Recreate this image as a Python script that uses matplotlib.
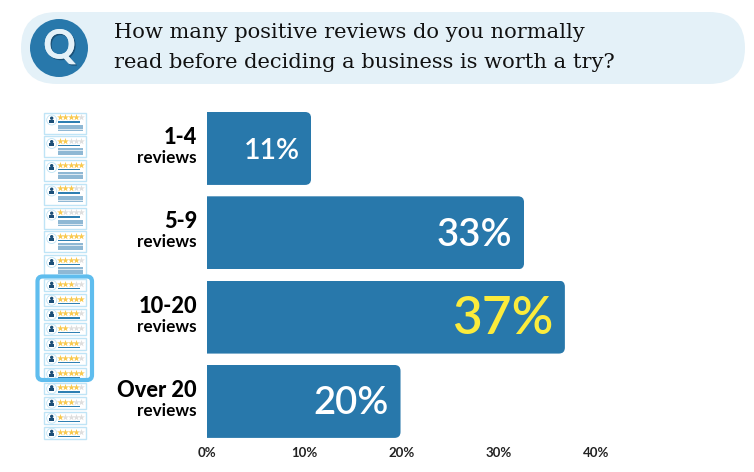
import matplotlib
matplotlib.use("Agg")
import matplotlib.pyplot as plt
from matplotlib.patches import FancyBboxPatch, Circle, Rectangle, PathPatch
from matplotlib.path import Path
import matplotlib.patheffects as pe

W, H = 754, 472
top_labels = ["1-4", "5-9", "10-20", "Over 20"]
sub_label = "reviews"
bar_values = [10.7, 32.6, 36.8, 19.9]
value_labels = ["11%", "33%", "37%", "20%"]
value_sizes = [20.5, 27.5, 37, 27.5]
value_colors = ["white", "white", "#FBEB3C", "white"]
x_ticks = [0, 10, 20, 30, 40]
x_tick_labels = ["0%", "10%", "20%", "30%", "40%"]
question = ["How many positive reviews do you normally",
            "read before deciding a business is worth a try?"]
tall_ratings = [4, 2, 5, 3, 1, 5, 4]
short_ratings = [3, 5, 4, 2, 4, 4, 5, 4, 3, 1, 4]

BLUE = "#2878AB"
fig = plt.figure(figsize=(W / 100, H / 100), dpi=100)

# overlay in pixel coordinates for the decoration
bg = fig.add_axes([0, 0, 1, 1])
bg.set_xlim(0, W); bg.set_ylim(H, 0); bg.axis("off")

bg.add_patch(FancyBboxPatch((21, 12), 724, 72, boxstyle="round,pad=0,rounding_size=36",
                            fc="#E4F1F8", ec="none"))
bg.add_patch(Circle((59, 48), 29, fc=BLUE, ec="none"))
bg.text(59.5, 47, "Q", color="#E4F1F8", fontsize=29, fontweight="bold", family="Lato",
        ha="center", va="center",
        path_effects=[pe.withSimplePatchShadow(offset=(1, -1), shadow_rgbFace="#1B5177", alpha=1), pe.Normal()])
for line, y in zip(question, [32, 63]):
    bg.text(114, y, line, fontsize=15.1, family="DejaVu Serif", color="#111111", ha="left", va="center")


def card(top, height, rating, tall):
    bg.add_patch(Rectangle((43.5, top), 42.5, height, fc="white", ec="#BFE4F6", lw=1))
    cy = top + 7.5 if tall else top + 6.2
    bg.add_patch(Circle((51.7, cy), 5, fc="white", ec="#BFE4F6", lw=0.6))
    bg.add_patch(Rectangle((49, cy - 0.3), 5.4, 3, fc="#1C4F78", ec="none"))
    bg.add_patch(Circle((51.7, cy - 1.8), 1.7, fc="#1C4F78", ec="none"))
    sy = top + 4.7
    for i in range(5):
        bg.scatter(60.2 + i * 5.25, sy, marker="*", s=26, lw=0,
                   c="#F9C94E" if i < rating else "#DEDEDE", zorder=3)
    bg.add_patch(Rectangle((58, sy + 4.2), 22, 1.4, fc="#2E7FB2", ec="none", zorder=3))
    if tall:
        bg.add_patch(Rectangle((58, top + 12.3), 24.5, 6.5, fc="#8FB8D4", ec="none", zorder=3))
        for dy in (14.3, 16.6):
            bg.add_patch(Rectangle((58, top + dy), 24.5, 0.6, fc="#DCE9F2", ec="none", zorder=3))


for t, r in zip([112.5, 136, 160, 183.5, 207.5, 231, 255], tall_ratings):
    card(t, 21, r, True)
for t, r in zip([279, 294, 308.5, 323, 338, 353, 368, 382.5, 397, 412, 427], short_ratings):
    card(t, 11.5, r, False)
bg.add_patch(FancyBboxPatch((37.5, 276.5), 54.5, 103.5, boxstyle="round,pad=0,rounding_size=5",
                            fc="none", ec="#5FBDEE", lw=3, zorder=5))

# main chart
left, right, top, bottom = 207, 596, 106.3, 443.6
ax = fig.add_axes([left / W, 1 - bottom / H, (right - left) / W, (bottom - top) / H])
ax.patch.set_alpha(0)
ax.set_xlim(0, 40)
ax.set_ylim(3.5, -0.5)
pos = list(range(len(bar_values)))
bars = ax.barh(pos, bar_values, height=0.865, color=BLUE, zorder=2)
px_x = 40 / (right - left)
px_y = 4 / (bottom - top)
rx, ry = 6 * px_x, 6 * px_y
for b in bars:
    x1 = b.get_width(); y0 = b.get_y(); y1 = y0 + b.get_height()
    verts = [(0, y0), (x1 - rx, y0), (x1, y0), (x1, y0 + ry), (x1, y1 - ry), (x1, y1),
             (x1 - rx, y1), (0, y1), (0, y0)]
    codes = [Path.MOVETO, Path.LINETO, Path.CURVE3, Path.CURVE3, Path.LINETO,
             Path.CURVE3, Path.CURVE3, Path.LINETO, Path.CLOSEPOLY]
    clip = PathPatch(Path(verts, codes), transform=ax.transData)
    b.set_clip_path(clip)

for y, v, lab, s, c in zip(pos, bar_values, value_labels, value_sizes, value_colors):
    ax.annotate(lab, (v, y), xytext=(-8.2, -1.8), textcoords="offset points", ha="right", va="center",
                color=c, fontsize=s, family="Lato", fontweight="semibold", zorder=3)
for y, lab in zip(pos, top_labels):
    ax.annotate(lab, (0, y), xytext=(-7.2, 8.0), textcoords="offset points", ha="right", va="center",
                color="#000000", fontsize=15.7, family="Lato", fontweight="black")
    ax.annotate(sub_label, (0, y), xytext=(-7.2, -6.9), textcoords="offset points", ha="right", va="center",
                color="#000000", fontsize=12.3, family="Lato", fontweight="bold")

ax.set_xticks(x_ticks, x_tick_labels, fontsize=9.5, family="Lato", fontweight="bold", color="#222222")
ax.set_yticks([])
ax.tick_params(axis="x", length=0, pad=2.5)
for s in ax.spines.values():
    s.set_visible(False)

fig.savefig("out.png", dpi=100)
